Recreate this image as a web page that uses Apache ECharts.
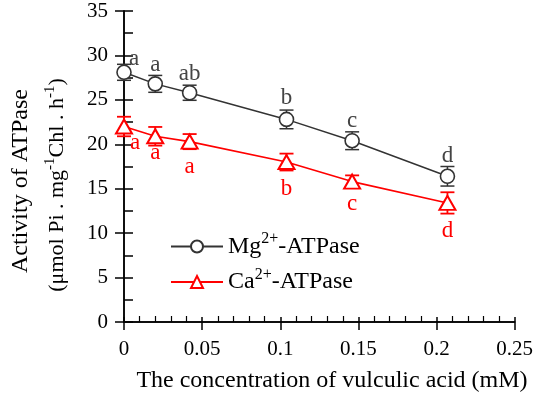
<!DOCTYPE html>
<html>
<head>
<meta charset="utf-8">
<script src="https://cdn.jsdelivr.net/npm/echarts@6/dist/echarts.min.js"></script>
<style>
html, body { margin: 0; padding: 0; background: #fff; }
#chart { width: 536px; height: 397px; }
</style>
</head>
<body>
<div id="chart"></div>
<script>
// Vulculic acid concentration (mM)
const concentration = [0, 0.02, 0.042, 0.104, 0.146, 0.207];

// Mg2+-ATPase activity, standard error and significance letters
const mgActivity = [28.1, 26.8, 25.8, 22.8, 20.4, 16.4];
const mgError = [0.9, 0.95, 0.85, 1.05, 1.0, 1.1];
const mgLetters = ['a', 'a', 'ab', 'b', 'c', 'd'];

// Ca2+-ATPase activity, standard error and significance letters
const caActivity = [22.0, 20.9, 20.3, 18.0, 15.8, 13.4];
const caError = [1.1, 1.05, 0.85, 0.95, 0.7, 1.2];
const caLetters = ['a', 'a', 'a', 'b', 'c', 'd'];

// Axis tick labels
const xTickLabels = ['0', '0.05', '0.1', '0.15', '0.2', '0.25'];
const yTickLabels = ['0', '5', '10', '15', '20', '25', '30', '35'];

const FONT = '"Liberation Serif", "Times New Roman", serif';
const MG_COLOR = '#333333';
const CA_COLOR = '#ff0000';

// Letter placement relative to each point (pixels)
const mgLetterShift = [[10, -13], [0, -19], [0, -19], [0, -21], [0, -20], [0, -20]];
const caLetterShift = [[11, 16], [0, 17], [0, 25], [0, 27], [0, 22], [0, 28]];

const mgPoints = concentration.map((x, i) => [x, mgActivity[i]]);
const caPoints = concentration.map((x, i) => [x, caActivity[i]]);

function errorBarSeries(values, errors, color, width) {
  return {
    type: 'custom',
    z: 1,
    silent: true,
    data: concentration.map((x, i) => [x, values[i] - errors[i], values[i] + errors[i]]),
    renderItem: function (params, api) {
      const lo = api.coord([api.value(0), api.value(1)]);
      const hi = api.coord([api.value(0), api.value(2)]);
      const half = 7;
      const style = { stroke: color, lineWidth: width, fill: null };
      return {
        type: 'group',
        children: [
          { type: 'line', shape: { x1: lo[0], y1: lo[1], x2: hi[0], y2: hi[1] }, style: style },
          { type: 'line', shape: { x1: lo[0] - half, y1: lo[1], x2: lo[0] + half, y2: lo[1] }, style: style },
          { type: 'line', shape: { x1: hi[0] - half, y1: hi[1], x2: hi[0] + half, y2: hi[1] }, style: style }
        ]
      };
    }
  };
}

function letterSeries(values, letters, shift, color) {
  return {
    type: 'custom',
    z: 5,
    silent: true,
    data: concentration.map((x, i) => [x, values[i], i]),
    renderItem: function (params, api) {
      const i = api.value(2);
      const p = api.coord([api.value(0), api.value(1)]);
      return {
        type: 'text',
        x: p[0] + shift[i][0],
        y: p[1] + shift[i][1],
        style: {
          text: letters[i],
          fill: color,
          font: '23px ' + FONT,
          textAlign: 'center',
          textVerticalAlign: 'middle'
        }
      };
    }
  };
}

const axisLine = { show: true, onZero: false, lineStyle: { color: '#000', width: 1.5 } };

const option = {
  backgroundColor: '#fff',
  animation: false,
  grid: { left: 124, right: 20, top: 11, bottom: 75, containLabel: false },
  xAxis: [
    {
      type: 'value', min: 0, max: 0.25, interval: 0.05, position: 'bottom',
      axisLine: axisLine,
      axisTick: { show: true, inside: false, length: 8, lineStyle: { color: '#000', width: 1.5 } },
      axisLabel: {
        margin: 17, color: '#000', fontFamily: FONT, fontSize: 21,
        formatter: v => xTickLabels[Math.round(v / 0.05)]
      },
      splitLine: { show: false }
    },
    {
      type: 'value', min: 0, max: 0.25, interval: 0.05, position: 'bottom',
      axisLine: axisLine,
      axisTick: { show: true, inside: true, length: 5, lineStyle: { color: '#000', width: 1.5 } },
      minorTick: { show: true, splitNumber: 5, length: 6, lineStyle: { color: '#000', width: 1.2 } },
      axisLabel: { show: false },
      splitLine: { show: false }
    }
  ],
  yAxis: [
    {
      type: 'value', min: 0, max: 35, interval: 5, position: 'left',
      axisLine: axisLine,
      axisTick: { show: true, inside: false, length: 9, lineStyle: { color: '#000', width: 1.5 } },
      axisLabel: {
        margin: 16, color: '#000', fontFamily: FONT, fontSize: 21,
        formatter: v => yTickLabels[Math.round(v / 5)]
      },
      splitLine: { show: false }
    },
    {
      type: 'value', min: 0, max: 35, interval: 5, position: 'left',
      axisLine: axisLine,
      axisTick: { show: true, inside: true, length: 9, lineStyle: { color: '#000', width: 1.5 } },
      minorTick: { show: true, splitNumber: 2, length: 9, lineStyle: { color: '#000', width: 1.5 } },
      axisLabel: { show: false },
      splitLine: { show: false }
    }
  ],
  legend: {
    left: 165, top: 226, orient: 'vertical',
    itemWidth: 52, itemHeight: 15, itemGap: 8,
    data: ['Mg', 'Ca'],
    textStyle: {
      fontFamily: FONT, fontSize: 24, color: '#000',
      rich: {
        n: { fontFamily: FONT, fontSize: 24, color: '#000' },
        sup: { fontFamily: FONT, fontSize: 16, color: '#000', padding: [0, 0, 15, 0] }
      }
    },
    formatter: name => '{n|' + name + '}{sup|2+}{n|-ATPase}'
  },
  series: [
    errorBarSeries(mgActivity, mgError, MG_COLOR, 1.5),
    errorBarSeries(caActivity, caError, CA_COLOR, 1.8),
    {
      name: 'Mg', type: 'line', z: 3, data: mgPoints,
      symbol: 'circle', symbolSize: 14, showAllSymbol: true,
      lineStyle: { color: MG_COLOR, width: 1.5 },
      itemStyle: { color: '#fff', borderColor: MG_COLOR, borderWidth: 1.6 }
    },
    {
      name: 'Ca', type: 'line', z: 3, data: caPoints,
      symbol: 'triangle', symbolSize: [16, 14], showAllSymbol: true,
      lineStyle: { color: CA_COLOR, width: 1.6 },
      itemStyle: { color: '#fff', borderColor: CA_COLOR, borderWidth: 2 }
    },
    letterSeries(mgActivity, mgLetters, mgLetterShift, '#444'),
    letterSeries(caActivity, caLetters, caLetterShift, CA_COLOR)
  ],
  graphic: [
    {
      type: 'text', x: 332, y: 381,
      style: {
        text: 'The concentration of vulculic acid (mM)',
        font: '24px ' + FONT, fill: '#000',
        textAlign: 'center', textVerticalAlign: 'middle'
      }
    },
    {
      type: 'text', x: 21, y: 181, rotation: Math.PI / 2,
      style: {
        text: 'Activity of ATPase',
        font: '24px ' + FONT, fill: '#000',
        textAlign: 'center', textVerticalAlign: 'middle'
      }
    },
    {
      type: 'text', x: 57, y: 185, rotation: Math.PI / 2,
      style: {
        text: '{n|(μmol Pi . mg}{sup|-1}{n|Chl . h}{sup|-1}{n|)}',
        fill: '#000', textAlign: 'center', textVerticalAlign: 'middle',
        rich: {
          n: { fontFamily: FONT, fontSize: 22, fill: '#000', color: '#000' },
          sup: { fontFamily: FONT, fontSize: 15, fill: '#000', color: '#000', padding: [0, 0, 14, 0] }
        }
      }
    }
  ]
};

const chart = echarts.init(document.getElementById('chart'), null, { renderer: 'canvas' });
chart.setOption(option);
</script>
</body>
</html>
